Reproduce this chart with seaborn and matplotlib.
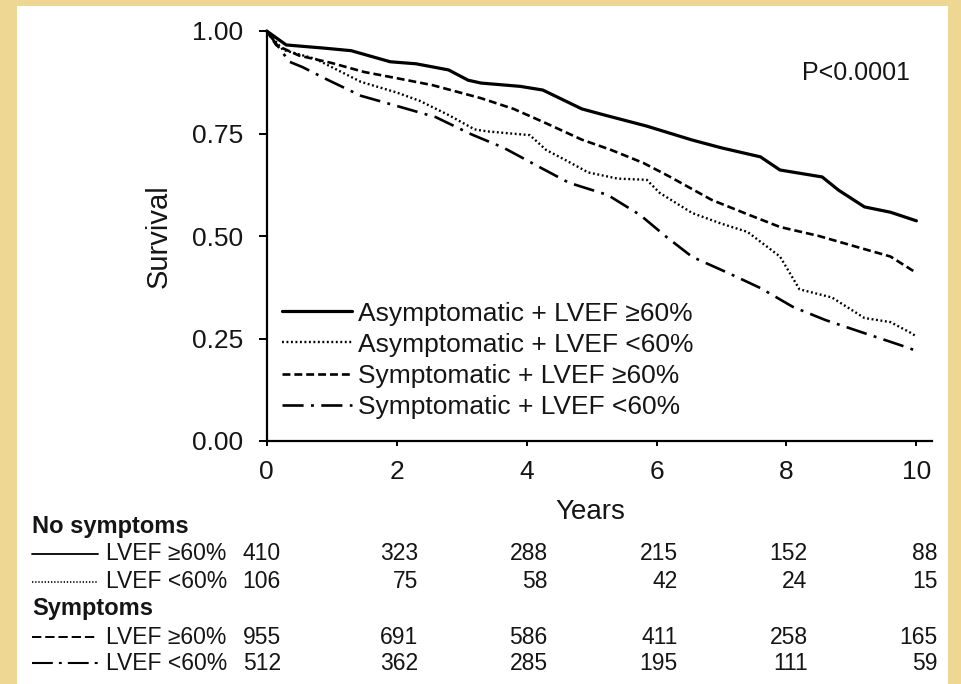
import matplotlib
matplotlib.use("Agg")
import matplotlib.pyplot as plt
import matplotlib.transforms as mtransforms
from matplotlib.lines import Line2D
from matplotlib.patches import Rectangle
import seaborn as sns

# ---------------- data ----------------
x_ticks = [0, 2, 4, 6, 8, 10]
y_ticks = [0.0, 0.25, 0.50, 0.75, 1.00]
y_tick_labels = ["0.00", "0.25", "0.50", "0.75", "1.00"]

series_labels = ["Asymptomatic + LVEF \u226560%", "Asymptomatic + LVEF <60%",
                 "Symptomatic + LVEF \u226560%", "Symptomatic + LVEF <60%"]

asym_hi_x = [0, 0.3, 0.9, 1.3, 1.9, 2.3, 2.8, 3.1, 3.3, 3.9, 4.25, 4.85, 5.2, 5.85,
             6.55, 7.0, 7.6, 7.9, 8.55, 8.8, 9.2, 9.6, 10.0]
asym_hi_y = [1.0, 0.966, 0.958, 0.952, 0.925, 0.92, 0.905, 0.88, 0.873, 0.865, 0.856,
             0.81, 0.795, 0.768, 0.734, 0.715, 0.693, 0.661, 0.644, 0.612, 0.571, 0.558, 0.537]

asym_lo_x = [0, 0.25, 0.75, 1.45, 2.0, 2.35, 2.8, 3.2, 3.4, 4.05, 4.3, 4.6, 4.95, 5.4,
             5.85, 6.05, 6.55, 7.0, 7.4, 7.9, 8.2, 8.7, 9.2, 9.6, 9.9, 10.0]
asym_lo_y = [1.0, 0.954, 0.932, 0.876, 0.85, 0.83, 0.795, 0.76, 0.755, 0.746, 0.71, 0.685,
             0.655, 0.64, 0.637, 0.605, 0.556, 0.53, 0.51, 0.45, 0.37, 0.35, 0.30, 0.29,
             0.265, 0.255]

sym_hi_x = [0, 0.15, 0.5, 1.0, 1.5, 2.0, 2.55, 3.3, 3.8, 4.3, 4.85, 5.3, 5.8, 6.2,
            6.85, 7.4, 7.9, 8.5, 9.2, 9.6, 10.0]
sym_hi_y = [1.0, 0.965, 0.94, 0.922, 0.90, 0.885, 0.868, 0.836, 0.81, 0.775, 0.735, 0.71,
            0.678, 0.645, 0.588, 0.553, 0.522, 0.50, 0.468, 0.45, 0.41]

sym_lo_x = [0, 0.35, 0.55, 0.95, 1.45, 2.05, 2.6, 3.15, 3.65, 4.2, 4.65, 5.25, 5.75,
            6.15, 6.55, 7.1, 7.6, 8.1, 8.6, 9.2, 9.75, 10.0]
sym_lo_y = [1.0, 0.925, 0.912, 0.88, 0.842, 0.815, 0.79, 0.748, 0.715, 0.668, 0.63, 0.60,
            0.551, 0.498, 0.449, 0.41, 0.373, 0.327, 0.295, 0.263, 0.234, 0.22]

p_text = "P<0.0001"

risk_headers = ["No symptoms", "Symptoms"]
risk_row_labels = ["LVEF \u226560%", "LVEF <60%", "LVEF \u226560%", "LVEF <60%"]
risk_asym_hi = [410, 323, 288, 215, 152, 88]
risk_asym_lo = [106, 75, 58, 42, 24, 15]
risk_sym_hi = [955, 691, 586, 411, 258, 165]
risk_sym_lo = [512, 362, 285, 195, 111, 59]

# ---------------- styling ----------------
sns.set_style("white")
plt.rcParams["font.family"] = ["Liberation Sans", "DejaVu Sans"]
TXT = "#151515"

W, H = 961, 684
fig = plt.figure(figsize=(W / 100, H / 100), dpi=100, facecolor="white")
ax_l, ax_r, ax_t, ax_b = 266.7, 932.0, 31.0, 441.0
ax = fig.add_axes([ax_l / W, 1 - ax_b / H, (ax_r - ax_l) / W, (ax_b - ax_t) / H])
ax.set_facecolor("none")

curve_styles = [
    dict(lw=2.3, ls="-"),
    dict(lw=1.7, ls=(0, (0.8, 1.1))),
    dict(lw=1.9, ls=(0, (3.0, 1.5))),
    dict(lw=1.9, ls=(0, (8.0, 2.8, 1.1, 2.8))),
]
curves = [(asym_hi_x, asym_hi_y), (asym_lo_x, asym_lo_y),
          (sym_hi_x, sym_hi_y), (sym_lo_x, sym_lo_y)]

for (xs, ys), st, lab in zip(curves, curve_styles, series_labels):
    sns.lineplot(x=xs, y=ys, ax=ax, color="black", linewidth=st["lw"],
                 linestyle=st["ls"], estimator=None, sort=False,
                 legend=False, clip_on=False)

ax.set_xlim(0, 10.24)
ax.set_ylim(0, 1.0)
ax.set_xticks(x_ticks)
ax.set_xticklabels([str(t) for t in x_ticks])
ax.set_yticks(y_ticks)
ax.set_yticklabels(y_tick_labels)
sns.despine(ax=ax)
for s in ("left", "bottom"):
    ax.spines[s].set_linewidth(1.6)
    ax.spines[s].set_color("black")
ax.tick_params(axis="y", length=5.8, width=1.4, pad=11, labelsize=19,
               labelcolor=TXT, color="black", direction="out", left=True)
ax.tick_params(axis="x", length=3.6, width=1.4, pad=10, labelsize=19,
               labelcolor=TXT, color="black", direction="out", bottom=True)

ax.set_xlabel("Years", fontsize=20, color=TXT)
ax.xaxis.set_label_coords(0.487, -0.142)
ax.set_ylabel("Survival", fontsize=21, color=TXT)
ax.yaxis.set_label_coords(-0.141, 0.5)

ax.text(9.9, 0.897, p_text, ha="right", va="center", fontsize=18, color=TXT)

# legend
handles = [Line2D([], [], color="black", lw=st["lw"], ls=st["ls"]) for st in curve_styles]
leg = ax.legend(handles, series_labels, loc="upper left",
                bbox_to_anchor=(0.023, 0.340), frameon=False, fontsize=19,
                handlelength=2.65, handletextpad=0.22, labelspacing=0.27,
                borderpad=0, borderaxespad=0)
for t in leg.get_texts():
    t.set_color(TXT)

# ---------------- number-at-risk table ----------------
def fy(py):
    return 1 - py / H

def fx(px):
    return px / W

num_trans = mtransforms.blended_transform_factory(ax.transData, fig.transFigure)
row_py = [554, 582, 637, 663]
header_py = [526, 608]
table_fs = 16.5

for hdr, py in zip(risk_headers, header_py):
    fig.text(fx(32), fy(py), hdr, ha="left", va="center", fontsize=table_fs + 0.5,
             fontweight="bold", color=TXT)

table_styles = [
    dict(lw=1.3, ls="-"),
    dict(lw=1.2, ls=(0, (0.8, 1.1))),
    dict(lw=1.4, ls=(0, (4.8, 2.0))),
    dict(lw=1.5, ls=(0, (10.0, 2.9, 1.4, 2.9))),
]
risk_rows = [risk_asym_hi, risk_asym_lo, risk_sym_hi, risk_sym_lo]
for lab, counts, st, py in zip(risk_row_labels, risk_rows, table_styles, row_py):
    fig.add_artist(Line2D([fx(32), fx(98)], [fy(py), fy(py)], color="black",
                          lw=st["lw"], ls=st["ls"], transform=fig.transFigure))
    fig.text(fx(106), fy(py), lab, ha="left", va="center", fontsize=table_fs, color=TXT)
    fig.text(fx(281), fy(py), str(counts[0]), ha="right", va="center",
             fontsize=table_fs, color=TXT)
    for yr, c in zip(x_ticks[1:], counts[1:]):
        ax.text(yr + 0.325, fy(py), str(c), ha="right", va="center",
                fontsize=table_fs, color=TXT, transform=num_trans, clip_on=False)

# ---------------- golden frame ----------------
gold = "#eed693"
for (x0, y0, w, h) in [(0, 0, 17, H), (0, 0, W, 6), (948, 0, W - 948, H)]:
    fig.add_artist(Rectangle((x0 / W, 1 - (y0 + h) / H), w / W, h / H,
                             transform=fig.transFigure, facecolor=gold,
                             edgecolor="none", zorder=10))

fig.savefig("out.png", dpi=100, facecolor=fig.get_facecolor())
